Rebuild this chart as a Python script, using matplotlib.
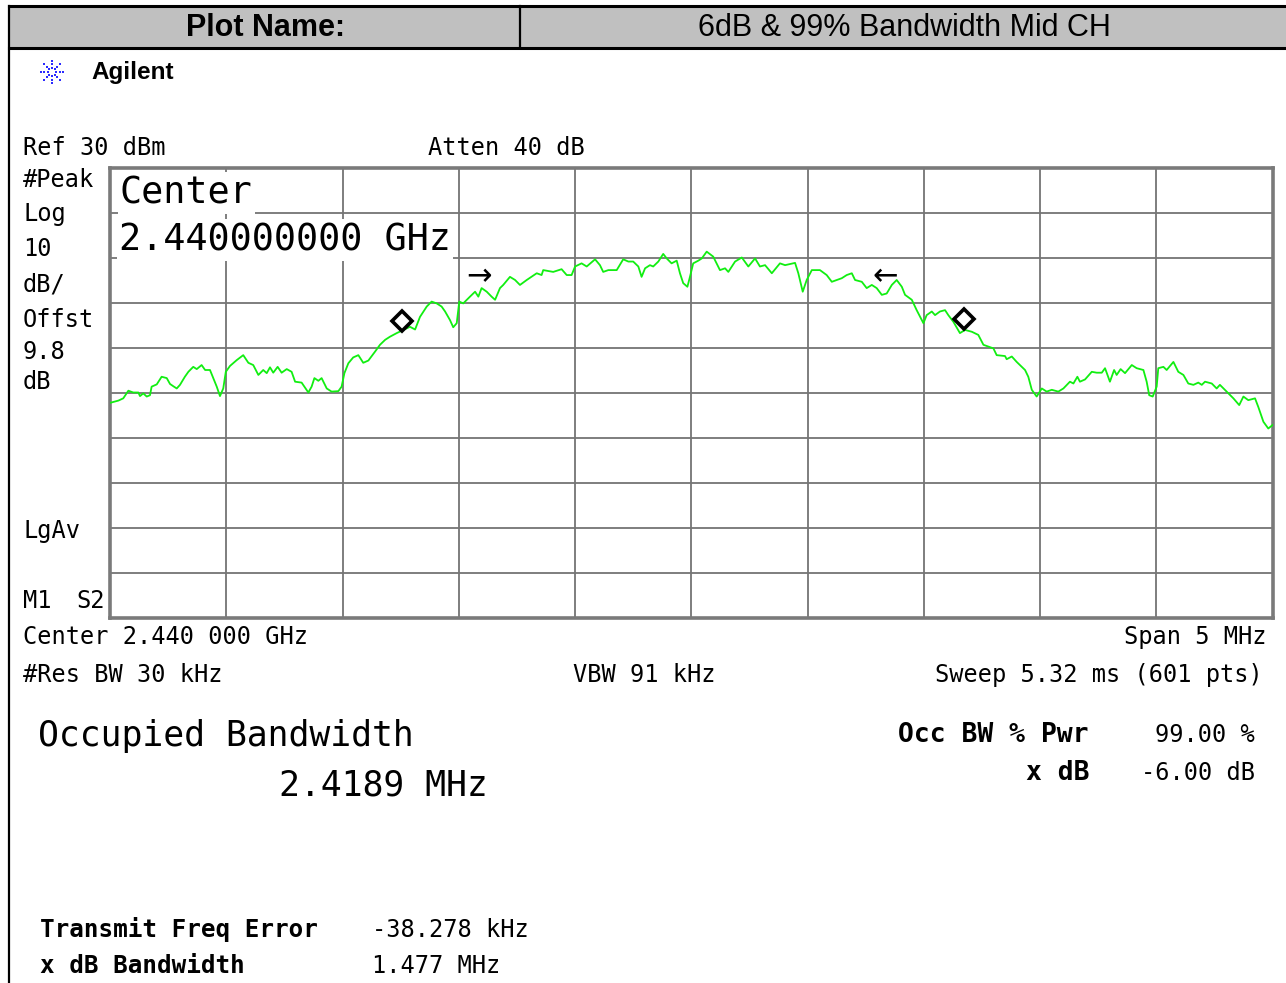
import numpy as np
import matplotlib
matplotlib.use('Agg')
import matplotlib.pyplot as plt
from matplotlib.lines import Line2D
from matplotlib.patches import Rectangle

# trace: offset from 2.440 GHz centre (MHz) and level (dBm)
freq_offset_mhz = [
    -2.500, -2.464, -2.443, -2.421, -2.400, -2.378, -2.371, -2.357, -2.342, -2.328,
    -2.321, -2.299, -2.278, -2.256, -2.242, -2.228, -2.213, -2.199, -2.178, -2.163,
    -2.142, -2.127, -2.106, -2.091, -2.070, -2.056, -2.041, -2.027, -2.013, -2.002,
    -1.984, -1.955, -1.927, -1.905, -1.884, -1.862, -1.841, -1.826, -1.812, -1.798,
    -1.779, -1.762, -1.740, -1.719, -1.704, -1.676, -1.647, -1.633, -1.621, -1.604,
    -1.590, -1.568, -1.547, -1.518, -1.504, -1.492, -1.475, -1.454, -1.432, -1.411,
    -1.389, -1.360, -1.339, -1.317, -1.296, -1.267, -1.239, -1.210, -1.188, -1.167,
    -1.138, -1.117, -1.095, -1.074, -1.059, -1.038, -1.024, -1.009, -0.998, -0.981,
    -0.952, -0.930, -0.916, -0.902, -0.880, -0.859, -0.844, -0.823, -0.809, -0.780,
    -0.758, -0.737, -0.708, -0.665, -0.644, -0.637, -0.594, -0.558, -0.536, -0.515,
    -0.500, -0.472, -0.450, -0.414, -0.393, -0.379, -0.357, -0.321, -0.293, -0.271,
    -0.250, -0.228, -0.214, -0.199, -0.178, -0.164, -0.142, -0.121, -0.106, -0.085,
    -0.063, -0.049, -0.035, -0.017, -0.006, 0.008, 0.030, 0.045, 0.066, 0.094,
    0.123, 0.145, 0.159, 0.188, 0.217, 0.245, 0.274, 0.295, 0.317, 0.346,
    0.381, 0.403, 0.446, 0.460, 0.479, 0.496, 0.518, 0.553, 0.582, 0.604,
    0.625, 0.647, 0.668, 0.690, 0.704, 0.733, 0.754, 0.776, 0.797, 0.819,
    0.840, 0.862, 0.883, 0.905, 0.919, 0.948, 0.969, 0.998, 1.012, 1.034,
    1.048, 1.069, 1.091, 1.105, 1.127, 1.155, 1.177, 1.206, 1.234, 1.256,
    1.277, 1.299, 1.313, 1.349, 1.356, 1.378, 1.399, 1.435, 1.449, 1.464,
    1.485, 1.507, 1.528, 1.550, 1.578, 1.600, 1.628, 1.643, 1.660, 1.671,
    1.693, 1.722, 1.743, 1.765, 1.779, 1.800, 1.818, 1.829, 1.846, 1.865,
    1.894, 1.915, 1.944, 1.958, 1.969, 1.984, 2.001, 2.008, 2.030, 2.044,
    2.073, 2.094, 2.116, 2.137, 2.159, 2.180, 2.195, 2.209, 2.238, 2.259,
    2.273, 2.302, 2.331, 2.356, 2.374, 2.395, 2.424, 2.438, 2.460, 2.481, 2.500]

level_dbm = [
    -22.3, -21.8, -21.3, -19.6, -20.0, -20.0, -20.8, -20.2, -20.9, -20.6,
    -18.7, -18.2, -16.5, -16.8, -18.1, -18.6, -19.1, -18.3, -16.5, -15.4,
    -14.3, -14.8, -13.9, -15.0, -15.0, -16.8, -18.7, -20.8, -19.1, -15.4,
    -14.1, -12.8, -11.7, -13.4, -13.9, -16.1, -15.0, -15.7, -14.4, -15.6,
    -14.3, -15.6, -14.8, -15.4, -17.6, -17.8, -20.0, -18.7, -16.8, -17.4,
    -16.8, -19.1, -19.8, -19.7, -18.7, -15.7, -13.5, -12.2, -11.7, -13.4,
    -12.9, -10.9, -9.4, -8.3, -7.6, -6.8, -6.1, -5.4, -6.0, -3.2,
    -0.9, 0.2, -0.2, -0.9, -2.0, -3.9, -5.5, -4.6, 0.2, -0.2,
    1.3, 2.4, 1.3, 3.2, 2.4, 1.3, 0.6, 3.2, 3.9, 5.7,
    5.0, 3.9, 5.0, 6.5, 6.1, 7.2, 6.8, 7.4, 6.1, 6.1,
    8.0, 8.7, 8.0, 9.6, 8.3, 6.8, 7.2, 7.2, 9.6, 9.1,
    9.1, 8.0, 5.7, 7.6, 8.3, 8.0, 9.1, 10.8, 9.8, 8.7,
    9.3, 6.5, 4.3, 3.5, 5.7, 8.7, 9.3, 9.8, 11.3, 10.2,
    7.2, 7.6, 6.8, 9.1, 10.0, 8.0, 9.8, 8.0, 8.3, 6.5,
    8.7, 8.3, 8.8, 6.5, 2.4, 5.0, 7.2, 7.2, 6.1, 4.6,
    5.0, 5.4, 6.1, 6.5, 5.0, 4.6, 3.2, 3.9, 3.2, 1.7,
    2.0, 3.9, 5.0, 3.5, 1.7, 0.6, -1.7, -4.6, -2.8, -2.0,
    -2.8, -2.0, -1.7, -2.8, -4.3, -6.8, -6.1, -6.5, -7.2, -9.4,
    -9.8, -10.2, -11.7, -11.9, -12.6, -12.0, -13.2, -15.0, -16.5, -19.4,
    -20.9, -19.1, -19.8, -19.4, -19.8, -19.1, -17.6, -18.0, -16.5, -17.6,
    -17.1, -15.4, -15.6, -15.6, -14.6, -17.6, -15.0, -16.1, -14.8, -15.7,
    -13.9, -14.6, -15.0, -17.6, -20.6, -20.9, -18.7, -14.6, -14.3, -15.0,
    -13.2, -15.4, -16.1, -18.0, -18.3, -17.8, -18.3, -17.6, -18.0, -19.1,
    -18.3, -19.8, -21.3, -22.8, -20.9, -21.7, -21.3, -23.2, -26.5, -28.0, -27.2]

# occupied bandwidth markers (diamonds) and x dB arrows
obw_marker_freq = [-1.246, 1.174]
obw_marker_level = [-4.1, -3.7]
xdb_arrow_freq = [-0.913, 0.833]
xdb_arrow_level = 5.7
xdb_arrow_text = ['\u2192', '\u2190']

ref_level = 30
db_per_div = 10
span_mhz = 5

left_labels = ['#Peak', 'Log', '10', 'dB/', 'Offst', '9.8', 'dB']
left_label_y = [180, 214, 249, 284, 320, 352, 382]

W, H = 1286, 983
MONO = 'DejaVu Sans Mono'
SANS = 'Liberation Sans'


def fx(px):
    return px / W


def fy(py):
    return 1 - py / H


fig = plt.figure(figsize=(W / 100, H / 100), dpi=100)
fig.patch.set_facecolor('white')

# header row
fig.add_artist(Rectangle((fx(9), fy(47.5)), 1 - fx(9), fy(6) - fy(47.5),
                         transform=fig.transFigure, facecolor='#c0c0c0', edgecolor='none'))
fig.add_artist(Line2D([fx(9), 1], [fy(6), fy(6)], color='black', lw=2.2))
fig.add_artist(Line2D([fx(9), 1], [fy(47.5), fy(47.5)], color='black', lw=2.2))
fig.add_artist(Line2D([fx(9), fx(9)], [0, fy(6)], color='black', lw=1.6))
fig.add_artist(Line2D([fx(520), fx(520)], [fy(47.5), fy(6)], color='black', lw=1.6))
fig.text(fx(265), fy(28), 'Plot Name:', family=SANS, weight='bold', fontsize=22,
         ha='center', va='center')
fig.text(fx(904), fy(28), '6dB & 99% Bandwidth Mid CH', family=SANS, fontsize=22,
         ha='center', va='center')

# Agilent logo (dotted star burst)
logo = fig.add_axes([fx(38), fy(86), fx(28), fy(58) - fy(86)])
logo.axis('off')
for ang in np.arange(0, 360, 45):
    r = np.array([0.3, 0.6, 0.9])
    logo.plot(r * np.cos(np.radians(ang)), r * np.sin(np.radians(ang)), 's',
              color='#2b2bff', ms=1.6, mew=0)
logo.set_xlim(-1.1, 1.1)
logo.set_ylim(-1.1, 1.1)
fig.text(fx(91), fy(73), 'Agilent', family=SANS, weight='bold', fontsize=17.5,
         ha='left', va='center')

# trace axes
ax = fig.add_axes([fx(110), fy(617.5), fx(1272.7) - fx(110), fy(167.5) - fy(617.5)])
ax.set_xlim(-span_mhz / 2, span_mhz / 2)
ax.set_ylim(ref_level - 10 * db_per_div, ref_level)
ax.set_xticks(np.linspace(-span_mhz / 2, span_mhz / 2, 11))
ax.set_yticks(np.arange(ref_level - 10 * db_per_div, ref_level + 1, db_per_div))
ax.tick_params(length=0, labelbottom=False, labelleft=False)
ax.grid(True, color='#747474', lw=1.3)
for s in ax.spines.values():
    s.set_color('#7a7a7a')
    s.set_linewidth(2.6)

ax.plot(freq_offset_mhz, level_dbm, color='#11ee11', lw=1.3, zorder=3)
ax.plot(obw_marker_freq, obw_marker_level, 'D', ms=10.5, mfc='white', mec='black',
        mew=2.6, zorder=4)
for f, t in zip(xdb_arrow_freq, xdb_arrow_text):
    ax.text(f, xdb_arrow_level, t, fontsize=22, family='DejaVu Sans',
            ha='center', va='center', zorder=4)

# centre frequency readout boxes on the graticule
fig.text(fx(120), fy(193), 'Center', family=MONO, fontsize=26.5, ha='left', va='center',
         bbox=dict(facecolor='white', edgecolor='none', pad=1.5), zorder=5)
fig.text(fx(119), fy(240), '2.440000000 GHz', family=MONO, fontsize=26.5, ha='left',
         va='center', bbox=dict(facecolor='white', edgecolor='none', pad=1.5), zorder=5)

# annotation texts
small = dict(family=MONO, fontsize=17, va='center')
fig.text(fx(23), fy(148), 'Ref 30 dBm', ha='left', **small)
fig.text(fx(428), fy(148), 'Atten 40 dB', ha='left', **small)
for lab, y in zip(left_labels, left_label_y):
    fig.text(fx(23), fy(y), lab, ha='left', **small)
fig.text(fx(23), fy(531), 'LgAv', ha='left', **small)
fig.text(fx(23), fy(601), 'M1', ha='left', **small)
fig.text(fx(76), fy(601), 'S2', ha='left', **small)
fig.text(fx(23), fy(637), 'Center 2.440 000 GHz', ha='left', **small)
fig.text(fx(1266), fy(637), 'Span 5 MHz', ha='right', **small)
fig.text(fx(23), fy(675), '#Res BW 30 kHz', ha='left', **small)
fig.text(fx(573), fy(675), 'VBW 91 kHz', ha='left', **small)
fig.text(fx(1263), fy(675), 'Sweep 5.32 ms (601 pts)', ha='right', **small)

big = dict(family=MONO, fontsize=25, va='center')
fig.text(fx(38), fy(736), 'Occupied Bandwidth', ha='left', **big)
fig.text(fx(488), fy(786), '2.4189 MHz', ha='right', **big)

bold = dict(family=MONO, fontsize=17.5, weight='bold', va='center')
fig.text(fx(1089), fy(735), 'Occ BW % Pwr', ha='right', family=MONO, fontsize=19,
         weight='bold', va='center')
fig.text(fx(1089), fy(773), 'x dB', ha='right', family=MONO, fontsize=19,
         weight='bold', va='center')
fig.text(fx(1255), fy(735), '99.00 %', ha='right', **small)
fig.text(fx(1255), fy(773), '-6.00 dB', ha='right', **small)

fig.text(fx(40), fy(930), 'Transmit Freq Error', ha='left', **bold)
fig.text(fx(40), fy(966), 'x dB Bandwidth', ha='left', **bold)
fig.text(fx(372), fy(930), '-38.278 kHz', ha='left', **small)
fig.text(fx(372), fy(966), '1.477 MHz', ha='left', **small)

fig.savefig('out.png', dpi=100)
